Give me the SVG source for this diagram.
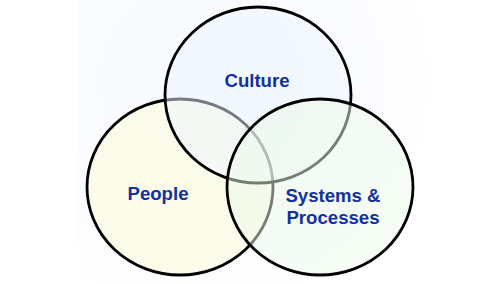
<svg xmlns="http://www.w3.org/2000/svg" width="500" height="284" viewBox="0 0 500 284">
  <defs>
    <radialGradient id="glow" cx="200" cy="80" r="240" gradientUnits="userSpaceOnUse">
      <stop offset="0" stop-color="#f6f9fe"/>
      <stop offset="0.7" stop-color="#fbfcff"/>
      <stop offset="1" stop-color="#ffffff"/>
    </radialGradient>
  </defs>
  <style>
    .ring { stroke: #000; stroke-width: 2.8; fill-opacity: 0.5; }
    .label { font-family: "Liberation Sans", Arial, sans-serif; font-weight: bold; font-size: 18.6px; fill: #12309e; text-anchor: middle; }
  </style>
  <rect width="500" height="284" fill="#ffffff"/>
  <rect x="77" y="0" width="423" height="284" fill="url(#glow)"/>

  <g id="people">
    <ellipse class="ring" cx="180" cy="187" rx="93" ry="88" fill="#fdfbd6"/>
    <text class="label" x="158" y="200">People</text>
  </g>
  <g id="culture">
    <ellipse class="ring" cx="258" cy="95" rx="93" ry="88" fill="#eef5ff"/>
    <text class="label" x="257" y="87">Culture</text>
  </g>
  <g id="systems">
    <ellipse class="ring" cx="320" cy="187" rx="93" ry="88" fill="#ecf9e9"/>
    <text class="label" x="333" y="202">Systems &amp;</text>
    <text class="label" x="333" y="224">Processes</text>
  </g>
  <g id="connectors"/>
</svg>
